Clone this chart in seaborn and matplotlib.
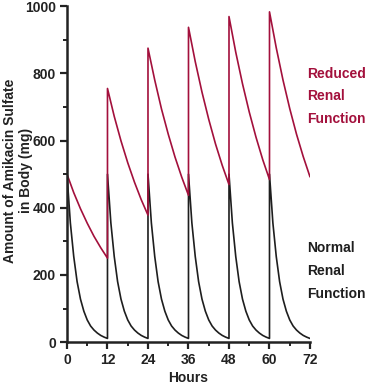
import pandas as pd
import matplotlib
matplotlib.use("Agg")
import matplotlib.pyplot as plt
import matplotlib.ticker as ticker
import seaborn as sns

sns.set_theme(style="white")
plt.rcParams["font.family"] = ["Liberation Sans", "DejaVu Sans"]

RED = "#A3103C"
BLACK = "#1E1E1E"

# ── data ─────────────────────────────────────────────────────────────────────
DOSE_TIMES = [0, 12, 24, 36, 48, 60]

# reduced renal function: amount (mg) at 0,2,...,12 h after each dose
REDUCED_HOURS = [0, 2, 4, 6, 8, 10, 12]
REDUCED_CYCLES = [
    [500, 445, 397, 354, 315, 281, 250],
    [755, 672, 599, 534, 476, 424, 378],
    [875, 780, 694, 619, 551, 491, 437],
    [937, 835, 744, 663, 590, 526, 469],
    [969, 863, 769, 685, 610, 543, 484],
    [983, 876, 780, 695, 619, 552, 492],
]

# normal renal function: same profile after every dose
NORMAL_HOURS = [0, 1, 2, 3, 4, 5, 6, 7, 8, 9, 10, 11, 12]
NORMAL_CYCLE = [500, 355, 255, 180, 128, 92, 66, 48, 36, 27, 20, 15, 11]

X_TICKS = [0, 12, 24, 36, 48, 60, 72]
Y_TICKS = [0, 200, 400, 600, 800, 1000]

rows = []
for d, cyc in zip(DOSE_TIMES, REDUCED_CYCLES):
    for h, v in zip(REDUCED_HOURS, cyc):
        rows.append({"hours": d + h, "amount": v, "series": "reduced"})
for d in DOSE_TIMES:
    for h, v in zip(NORMAL_HOURS, NORMAL_CYCLE):
        rows.append({"hours": d + h, "amount": v, "series": "normal"})
df = pd.DataFrame(rows)

# ── plot ──────────────────────────────────────────────────────────────────────
fig = plt.figure(figsize=(3.66, 3.84), dpi=100)
ax = fig.add_axes([0.183, 0.109, 0.664, 0.875])

sns.lineplot(data=df[df["series"] == "normal"], x="hours", y="amount",
             sort=False, estimator=None, color=BLACK, linewidth=1.2, ax=ax)
sns.lineplot(data=df[df["series"] == "reduced"], x="hours", y="amount",
             sort=False, estimator=None, color=RED, linewidth=1.2, ax=ax)

ax.set_xlim(0, 72)
ax.set_ylim(0, 1000)
ax.set_xticks(X_TICKS)
ax.set_yticks(Y_TICKS)
ax.xaxis.set_minor_locator(ticker.MultipleLocator(6))
ax.yaxis.set_minor_locator(ticker.MultipleLocator(100))
ax.tick_params(which="major", direction="out", length=5, width=1.6,
               labelsize=10, pad=3, color="#222222", labelcolor="#222222")
ax.tick_params(which="minor", direction="out", length=3, width=1.4,
               color="#222222")
ax.tick_params(bottom=True, left=True, which="both")
for lab in ax.get_xticklabels() + ax.get_yticklabels():
    lab.set_fontweight("bold")

for side in ["top", "right"]:
    ax.spines[side].set_visible(False)
for side in ["left", "bottom"]:
    ax.spines[side].set_linewidth(1.8)
    ax.spines[side].set_color("#222222")

ax.set_xlabel("Hours", fontsize=10, fontweight="bold", color="#222222")
ax.set_ylabel("Amount of Amikacin Sulfate\nin Body (mg)", fontsize=10,
              fontweight="bold", color="#222222", linespacing=1.15)
ax.xaxis.set_label_coords(0.5, -0.085)
ax.yaxis.set_label_coords(-0.14, 0.51)

ax.text(0.988, 0.82, "Reduced\nRenal\nFunction", transform=ax.transAxes,
        ha="left", va="top", fontsize=10, fontweight="bold", color=RED,
        linespacing=1.8)
ax.text(0.988, 0.30, "Normal\nRenal\nFunction", transform=ax.transAxes,
        ha="left", va="top", fontsize=10, fontweight="bold", color=BLACK,
        linespacing=1.8)

fig.savefig("out.png", dpi=100)
